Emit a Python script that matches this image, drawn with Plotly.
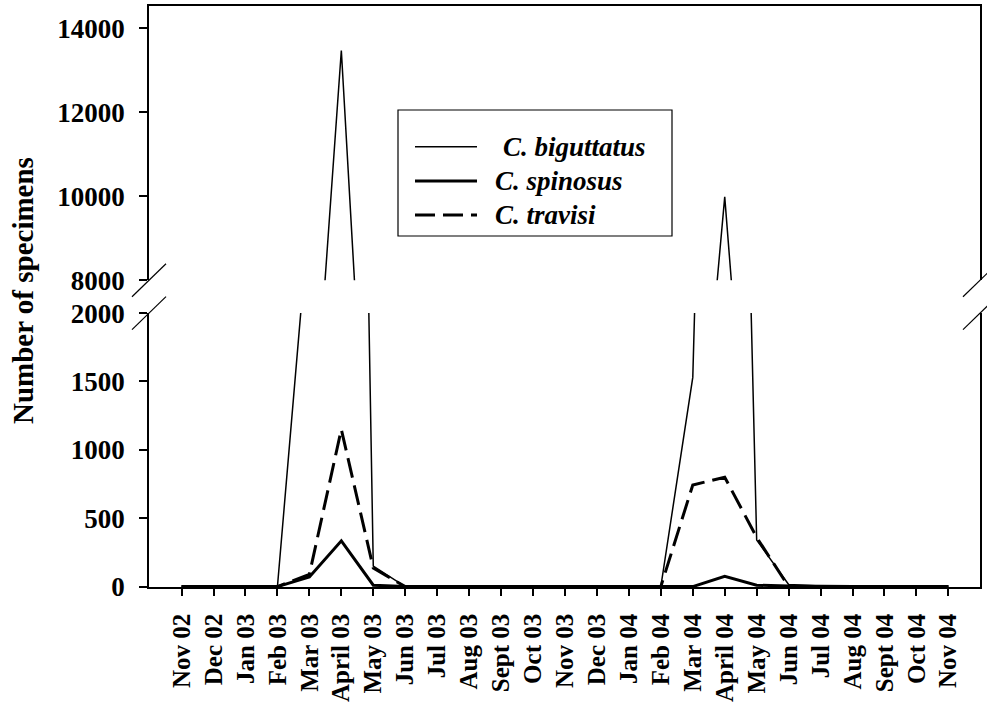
import plotly.graph_objects as go

months = ["Nov 02", "Dec 02", "Jan 03", "Feb 03", "Mar 03", "April 03", "May 03",
          "Jun 03", "Jul 03", "Aug 03", "Sept 03", "Oct 03", "Nov 03", "Dec 03",
          "Jan 04", "Feb 04", "Mar 04", "April 04", "May 04", "Jun 04", "Jul 04",
          "Aug 04", "Sept 04", "Oct 04", "Nov 04"]

biguttatus = [0, 0, 0, 0, 2745, 13470, 150, 0, 0, 0, 0, 0, 0, 0,
              0, 0, 1530, 9985, 340, 15, 5, 0, 0, 0, 0]
spinosus = [0, 0, 0, 0, 70, 335, 10, 0, 0, 0, 0, 0, 0, 0,
            0, 0, 0, 75, 10, 5, 0, 0, 0, 0, 0]
travisi = [0, 0, 0, 0, 90, 1150, 135, 0, 0, 0, 0, 0, 0, 0,
           0, 0, 743, 800, 360, 0, 0, 0, 0, 0, 0]

names = ["C. biguttatus", "C. spinosus", "C. travisi"]
series = [biguttatus, spinosus, travisi]
line_styles = [dict(color="black", width=1.5),
               dict(color="black", width=3),
               dict(color="black", width=3, dash="20px,8px")]

lower_ticks = [0, 500, 1000, 1500, 2000]
upper_ticks = [8000, 10000, 12000, 14000]

FONT = "Liberation Serif"
lo_top = 0.4714
up_bot = 0.5279

# plot-area pixel geometry (for decorations only)
L, R, T, B = 149, 980, 6, 587
W, H = R - L, B - T


def px(x):
    return (x - L) / W


def py(y):
    return (B - y) / H


fig = go.Figure()
for name, vals, ls in zip(names, series, line_styles):
    fig.add_trace(go.Scatter(x=months, y=vals, mode="lines", name=name, line=ls,
                             xaxis="x", yaxis="y", showlegend=False))
    fig.add_trace(go.Scatter(x=months, y=vals, mode="lines", name=name, line=ls,
                             xaxis="x2", yaxis="y2", showlegend=False))

tickfont = dict(family=FONT, size=27, color="black", weight="bold")

fig.update_layout(
    width=987, height=702,
    margin=dict(l=L, r=987 - R, t=T, b=702 - B),
    paper_bgcolor="white", plot_bgcolor="white",
    showlegend=False,
    xaxis=dict(type="category", range=[-1.02, 24.99], anchor="y", automargin=False,
               tickmode="array", tickvals=months, ticktext=months,
               showline=True, linecolor="black", linewidth=1.5, mirror=False,
               ticks="outside", ticklen=7, tickwidth=1.5, tickcolor="black",
               tickangle=-90, tickfont=dict(family=FONT, size=25, color="black", weight="bold"),
               ticklabelstandoff=8, showgrid=False, zeroline=False),
    xaxis2=dict(type="category", range=[-1.02, 24.99], anchor="y2", matches="x",
                automargin=False,
                side="top", showline=True, linecolor="black", linewidth=1.5,
                ticks="", showticklabels=False, showgrid=False, zeroline=False),
    yaxis=dict(domain=[0, lo_top], range=[-3, 2000], automargin=False,
               tickmode="array", tickvals=lower_ticks,
               ticktext=[str(v) for v in lower_ticks],
               showline=True, linecolor="black", linewidth=1.5, mirror=True,
               ticks="outside", ticklen=8, tickwidth=1.5, tickcolor="black",
               tickfont=tickfont, ticklabelstandoff=9,
               showgrid=False, zeroline=False),
    yaxis2=dict(domain=[up_bot, 1], range=[8000, 14530], automargin=False,
                tickmode="array", tickvals=upper_ticks,
                ticktext=[str(v) for v in upper_ticks],
                anchor="x2",
                showline=True, linecolor="black", linewidth=1.5, mirror=True,
                ticks="outside", ticklen=8, tickwidth=1.5, tickcolor="black",
                tickfont=tickfont, ticklabelstandoff=9,
                showgrid=False, zeroline=False),
)

annotations = [dict(text="Number of specimens", xref="paper", yref="paper",
                    x=px(23), y=py(291), xanchor="center", yanchor="middle",
                    textangle=-90, showarrow=False,
                    font=dict(family=FONT, size=29, color="black", weight="bold"))]

shapes = []
# axis-break marks
dx = 17 / W
dy = 16.5 / H
for xc in (0, 1):
    for yc in (up_bot, lo_top):
        shapes.append(dict(type="line", xref="paper", yref="paper",
                           x0=xc - dx, y0=yc - dy, x1=xc + dx, y1=yc + dy,
                           line=dict(color="black", width=1.2)))

# legend box
shapes.append(dict(type="rect", xref="paper", yref="paper",
                   x0=px(398), x1=px(672), y0=py(236), y1=py(110),
                   line=dict(color="black", width=1.2), fillcolor="white",
                   layer="above"))
row_y = [146.7, 181, 215]
text_x = [501, 493, 493]
for name, ls, ry, tx in zip(names, line_styles, row_y, text_x):
    shapes.append(dict(type="line", xref="paper", yref="paper",
                       x0=px(415), x1=px(477), y0=py(ry), y1=py(ry),
                       line=ls, layer="above"))
    annotations.append(dict(text=name, xref="paper", yref="paper",
                            x=px(tx), y=py(ry), xanchor="left", yanchor="middle",
                            showarrow=False,
                            font=dict(family=FONT, size=27, color="black",
                                      weight="bold", style="italic")))

fig.update_layout(shapes=shapes, annotations=annotations)

fig.write_html("out.html")
